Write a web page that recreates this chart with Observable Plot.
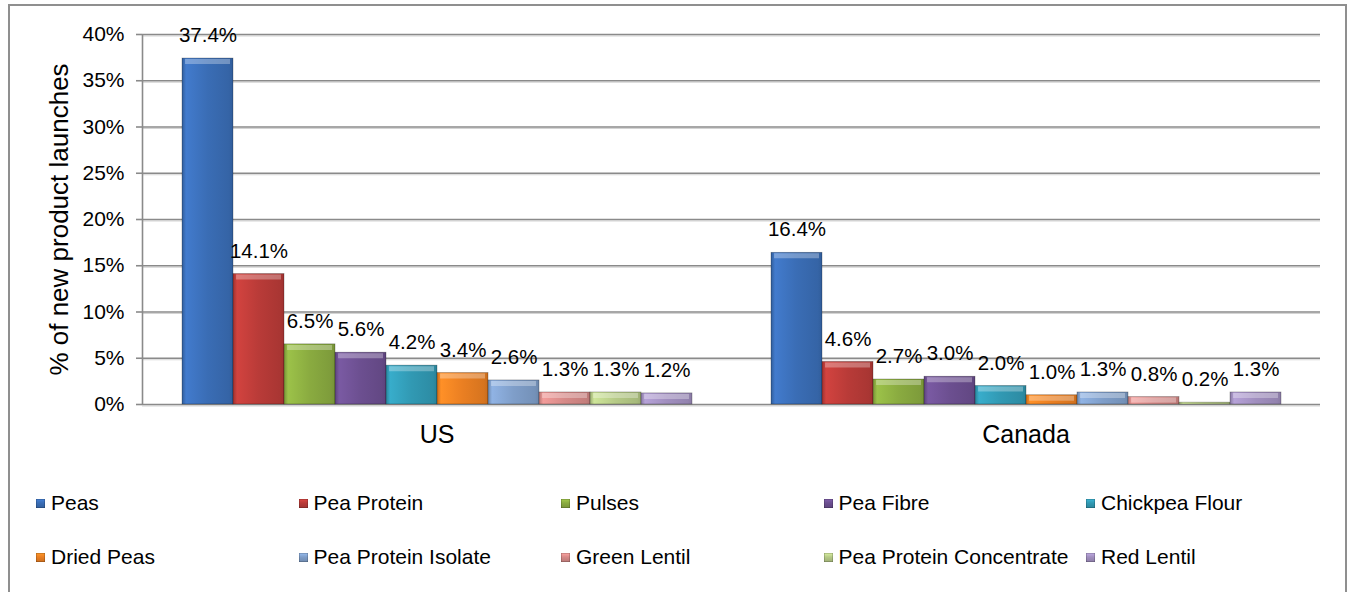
<!DOCTYPE html>
<html>
<head>
<meta charset="utf-8">
<script src="https://cdn.jsdelivr.net/npm/d3@7"></script>
<script src="https://cdn.jsdelivr.net/npm/@observablehq/plot@0.6"></script>
<style>
  html, body { margin: 0; padding: 0; background: #fff; }
  body { font-family: "Liberation Sans", Arial, sans-serif; }
  #wrap { position: relative; width: 1354px; height: 592px; overflow: hidden; background: #fff; }
  #border { position: absolute; left: 8px; top: 4px; width: 1339px; height: 640px; border: 2px solid #8f8f8f; box-sizing: border-box; }
  .layer { position: absolute; left: 0; top: 0; }
  #legend { position: absolute; left: 36px; top: 490px; display: grid; grid-template-columns: repeat(5, 262.5px); grid-auto-rows: 54px; font-size: 21px; color: #000; }
  .item { display: flex; align-items: flex-start; height: 26px; line-height: 26px; white-space: nowrap; }
  .sw { width: 9px; height: 9px; margin-top: 9px; margin-right: 6px; flex: none; box-shadow: inset 0 0 0 0.5px rgba(0,0,0,0.35); }
</style>
</head>
<body>
<div id="wrap">
  <div id="border"></div>
  <svg width="0" height="0" style="position:absolute"><defs id="defs"></defs></svg>
  <div id="bg" class="layer"></div>
  <div id="fg" class="layer"></div>
  <div id="legend"></div>
</div>
<script>
// ---- data ----
const countries = ["US", "Canada"];
const series = ["Peas", "Pea Protein", "Pulses", "Pea Fibre", "Chickpea Flour",
  "Dried Peas", "Pea Protein Isolate", "Green Lentil", "Pea Protein Concentrate", "Red Lentil"];
const usValues = [37.4, 14.1, 6.5, 5.6, 4.2, 3.4, 2.6, 1.3, 1.3, 1.2];
const canadaValues = [16.4, 4.6, 2.7, 3.0, 2.0, 1.0, 1.3, 0.8, 0.2, 1.3];
const yTicks = [0, 5, 10, 15, 20, 25, 30, 35, 40];
const yLabel = "% of new product launches";

// ---- style ----
const palette = ["#3a6db5", "#b93b38", "#8aab40", "#6c4f90", "#3199b3",
  "#ea7f22", "#7f9ec9", "#d68a88", "#b6ca87", "#a18fbf"];

const rows = countries.flatMap(c => series.map((s, i) => ({
  country: c, series: s, value: (c === "US" ? usValues : canadaValues)[i]
})));

// gradients
const defs = document.getElementById("defs");
palette.forEach((col, i) => {
  const c = d3.color(col);
  const light = c.brighter(0.35).formatHex();
  const dark = c.darker(0.45).formatHex();
  defs.insertAdjacentHTML("beforeend",
    `<linearGradient id="g${i}" x1="0" x2="1" y1="0" y2="0">
       <stop offset="0" stop-color="${dark}"/>
       <stop offset="0.08" stop-color="${light}"/>
       <stop offset="0.5" stop-color="${col}"/>
       <stop offset="0.92" stop-color="${c.darker(0.25).formatHex()}"/>
       <stop offset="1" stop-color="${dark}"/>
     </linearGradient>`);
});

const W = 1354, H = 470;
const margins = { marginLeft: 142, marginRight: 34, marginTop: 34, marginBottom: 66 };
const font = "'Liberation Sans', Arial, sans-serif";

// background layer: grid, y axis, title
const bg = Plot.plot({
  width: W, height: H, ...margins,
  style: { fontFamily: font, background: "transparent", color: "#000" },
  x: { domain: [0, 1], axis: null },
  y: { domain: [0, 40], axis: null },
  marks: [
    Plot.ruleY(yTicks.filter(d => d > 0), { stroke: "#d4d4d4", strokeWidth: 1, dy: 1.5 }),
    Plot.ruleY(yTicks.filter(d => d > 0), { stroke: "#8a8a8a", strokeWidth: 1.6 }),
    Plot.axisY(yTicks, { tickFormat: d => d + "%", tickSize: 6, tickPadding: 12, fontSize: 21, label: null, stroke: "#8a8a8a", strokeWidth: 1.6 }),
    Plot.ruleX([0], { y1: 0, y2: 40, stroke: "#8a8a8a", strokeWidth: 1.6 }),
    Plot.ruleY([0], { stroke: "#d4d4d4", strokeWidth: 1, dy: 1.5 }),
    Plot.ruleY([0], { stroke: "#8a8a8a", strokeWidth: 1.6 }),
    Plot.text([yLabel], { frameAnchor: "left", text: d => d, rotate: -90, dx: -83, textAnchor: "middle", lineAnchor: "middle", fontSize: 26, fill: "#000" })
  ]
});
document.getElementById("bg").appendChild(bg);

// foreground: bars, values, group labels
const fg = Plot.plot({
  width: W, height: H, ...margins,
  style: { fontFamily: font, background: "transparent", color: "#000", overflow: "visible" },
  fx: { domain: countries, paddingInner: 0.129, paddingOuter: 0.0645, label: null },
  x: { domain: series, padding: 0, axis: null },
  y: { domain: [0, 40], axis: null },
  color: { type: "ordinal", domain: series, range: series.map((s, i) => `url(#g${i})`) },
  marks: [
    Plot.barY(rows, { fx: "country", x: "series", y: "value", fill: "series", stroke: "rgba(0,0,0,0.35)", strokeWidth: 0.7 }),
    Plot.tickY(rows.filter(d => d.value >= 0.7), { fx: "country", x: "series", y: "value", stroke: "#ffffff", strokeOpacity: 0.3, strokeWidth: 5, dy: 3, insetLeft: 3, insetRight: 3 }),
    Plot.text(rows, { fx: "country", x: "series", y: "value", text: d => d.value.toFixed(1) + "%", lineAnchor: "middle", dy: -23, fontSize: 20.5, fill: "#000" }),
    Plot.axisFx({ anchor: "bottom", tickSize: 0, tickPadding: 21, fontSize: 25, label: null })
  ]
});
document.getElementById("fg").appendChild(fg);

// legend
const legend = document.getElementById("legend");
series.forEach((s, i) => {
  const c = d3.color(palette[i]);
  const item = document.createElement("div");
  item.className = "item";
  const sw = document.createElement("span");
  sw.className = "sw";
  sw.style.background = `linear-gradient(to bottom, ${c.brighter(0.5).formatHex()}, ${palette[i]} 45%, ${c.darker(0.4).formatHex()})`;
  const t = document.createElement("span");
  t.textContent = s;
  item.appendChild(sw);
  item.appendChild(t);
  legend.appendChild(item);
});
</script>
</body>
</html>
